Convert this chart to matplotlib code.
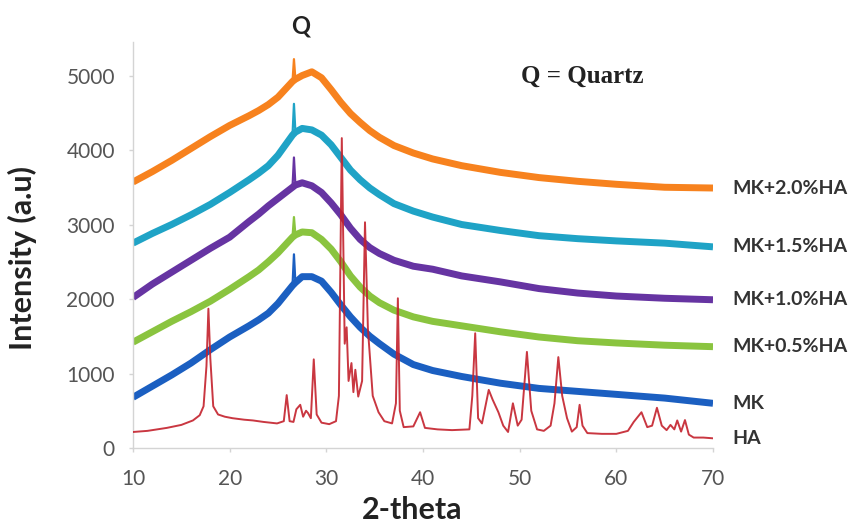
import matplotlib
matplotlib.use("Agg")
import matplotlib.pyplot as plt
import numpy as np

# ---------------- data ----------------
mk_two_theta = [10, 12, 14, 16, 18, 20, 22, 23, 24, 25, 26, 26.5, 26.65, 26.8, 27.5, 28.5,
                29.5, 30.5, 31.5, 32.5, 33.5, 34.5, 35.5, 37, 39, 41, 44, 48, 52, 56, 60, 65, 70]

mk_20 = [3570, 3710, 3860, 4020, 4180, 4330, 4460, 4530, 4610, 4710, 4850, 4920, 5220, 4950, 5000, 5050,
         4970, 4810, 4640, 4490, 4370, 4260, 4170, 4060, 3960, 3880, 3790, 3700, 3630, 3580, 3540, 3500, 3490]
mk_15 = [2750, 2880, 3000, 3130, 3270, 3430, 3600, 3690, 3790, 3930, 4110, 4200, 4620, 4240, 4290, 4270,
         4200, 4070, 3900, 3730, 3600, 3490, 3400, 3280, 3180, 3100, 3000, 2920, 2850, 2810, 2780, 2750, 2700]
mk_10 = [2020, 2200, 2360, 2520, 2680, 2830, 3040, 3140, 3250, 3350, 3450, 3500, 3900, 3530, 3560, 3520,
         3430, 3290, 3130, 2950, 2800, 2690, 2610, 2520, 2440, 2400, 2310, 2230, 2140, 2080, 2040, 2010, 1990]
mk_05 = [1420, 1560, 1700, 1830, 1970, 2130, 2300, 2390, 2500, 2620, 2760, 2830, 3100, 2860, 2900, 2890,
         2800, 2670, 2500, 2310, 2160, 2040, 1950, 1850, 1760, 1700, 1640, 1560, 1490, 1440, 1410, 1380, 1360]
mk_00 = [680, 830, 980, 1140, 1320, 1490, 1640, 1720, 1810, 1940, 2100, 2180, 2600, 2220, 2300, 2300,
         2240, 2090, 1920, 1760, 1620, 1500, 1400, 1260, 1120, 1040, 960, 870, 800, 760, 720, 670, 600]

quartz_theta = 26.65  # sharp quartz reflection (Q)

ha_two_theta = [10, 11.5, 13.5, 15, 16.2, 16.9, 17.3, 17.6, 17.8, 18.0, 18.3, 18.8, 19.5, 20.3,
                21.5, 22.4, 23.5, 24.9, 25.6, 25.9, 26.2, 26.6, 26.9, 27.3, 27.6, 27.9, 28.1, 28.4,
                28.7, 29.0, 29.5, 30.3, 31.0, 31.3, 31.6, 31.9, 32.1, 32.3, 32.6, 32.8, 33.0, 33.3,
                33.7, 34.0, 34.3, 34.8, 35.4, 36.0, 36.8, 37.2, 37.4, 37.6, 38.0, 39.0, 39.7, 40.2,
                41.5, 43.0, 44.8, 45.1, 45.4, 45.7, 46.1, 46.8, 47.2, 47.8, 48.3, 48.8, 49.3, 49.8,
                50.2, 50.75, 51.2, 51.8, 52.5, 53.2, 53.6, 54.0, 54.4, 54.9, 55.4, 55.9, 56.2, 56.5,
                57.0, 58.5, 60.0, 61.2, 61.8, 62.6, 63.2, 63.7, 64.2, 64.7, 65.2, 65.6, 66.0, 66.3,
                66.7, 67.1, 67.5, 68.0, 69.0, 70.0]
ha_intensity = [215, 230, 270, 310, 370, 440, 560, 1100, 1870, 1200, 560, 450, 420, 400,
                380, 370, 350, 330, 360, 710, 360, 350, 520, 580, 420, 500, 470, 400,
                1190, 450, 340, 320, 360, 700, 4160, 1400, 1620, 900, 1140, 750, 1050, 690,
                900, 3030, 1600, 700, 480, 360, 330, 600, 2010, 500, 280, 290, 480, 270,
                250, 240, 250, 700, 1540, 400, 330, 780, 650, 480, 300, 215, 600, 300,
                380, 1290, 500, 250, 230, 300, 600, 1220, 700, 400, 220, 280, 580, 300,
                200, 190, 190, 230, 350, 480, 280, 300, 540, 300, 240, 310, 250, 370,
                220, 375, 180, 140, 140, 130]

series_labels = ["MK+2.0%HA", "MK+1.5%HA", "MK+1.0%HA", "MK+0.5%HA", "MK", "HA"]
series_colors = ["#f7821e", "#1fa3c6", "#6634a2", "#8ac43f", "#1b5fc1", "#c4212c"]

x_ticks = [10, 20, 30, 40, 50, 60, 70]
y_ticks = [0, 1000, 2000, 3000, 4000, 5000]

# ---------------- figure ----------------
fig = plt.figure(figsize=(8.51, 5.29), dpi=100)
ax = fig.add_axes([133 / 851, 1 - 448 / 529, (713 - 133) / 851, (448 - 42) / 529])

amorphous = [mk_20, mk_15, mk_10, mk_05, mk_00]
x_arr = np.array(mk_two_theta, dtype=float)
qi = mk_two_theta.index(quartz_theta)
band_mask = np.ones(len(x_arr), dtype=bool)
band_mask[qi] = False
for vals, col in zip(amorphous, series_colors[:5]):
    v = np.array(vals, dtype=float)
    ax.plot(x_arr[band_mask], v[band_mask], color=col, lw=5.0, solid_joinstyle="round",
            solid_capstyle="butt", zorder=2)
    ax.plot(x_arr[qi - 1:qi + 2], v[qi - 1:qi + 2], color=col, lw=1.6, zorder=2)
ax.plot(ha_two_theta, ha_intensity, color=series_colors[5], lw=1.4, alpha=0.9, zorder=3)

ax.set_xlim(10, 70)
ax.set_ylim(0, 5450)
ax.set_xticks(x_ticks)
ax.set_yticks(y_ticks)

sans = ["Lato", "DejaVu Sans"]
for s in ["top", "right"]:
    ax.spines[s].set_visible(False)
for s in ["left", "bottom"]:
    ax.spines[s].set_color("#d4d4d4")
    ax.spines[s].set_linewidth(1.0)
ax.tick_params(axis="both", direction="out", length=3, width=1, color="#d4d4d4",
               labelcolor="#555555", labelsize=15)
ax.tick_params(axis="y", pad=10)
ax.tick_params(axis="x", pad=12)
for lab in ax.get_xticklabels() + ax.get_yticklabels():
    lab.set_family(sans)

ax.set_ylabel("Intensity (a.u)", fontsize=22, fontweight="bold", family=sans,
              color="#222222")
ax.yaxis.set_label_coords(-0.166, 0.468)
ax.set_xlabel("2-theta", fontsize=22, fontweight="bold", family=sans,
              color="#222222")
ax.xaxis.set_label_coords(0.481, -0.118)

# series labels at the end of each trace
ends = [s[-1] for s in amorphous] + [ha_intensity[-1]]
for lab, yv in zip(series_labels, ends):
    ax.text(72.0, yv, lab, fontsize=14, fontweight="bold", family=sans,
            color="#333333", va="center", ha="left", clip_on=False)

ax.text(27.3, 5660, "Q", fontsize=17, fontweight="bold", family=sans,
        color="#222222", ha="center", va="center", clip_on=False)
ax.text(56.45, 4990, "Q = Quartz", fontsize=18, fontweight="bold",
        family=["Liberation Serif", "DejaVu Serif"], color="#222222",
        ha="center", va="center")

fig.savefig("out.png", dpi=100)
